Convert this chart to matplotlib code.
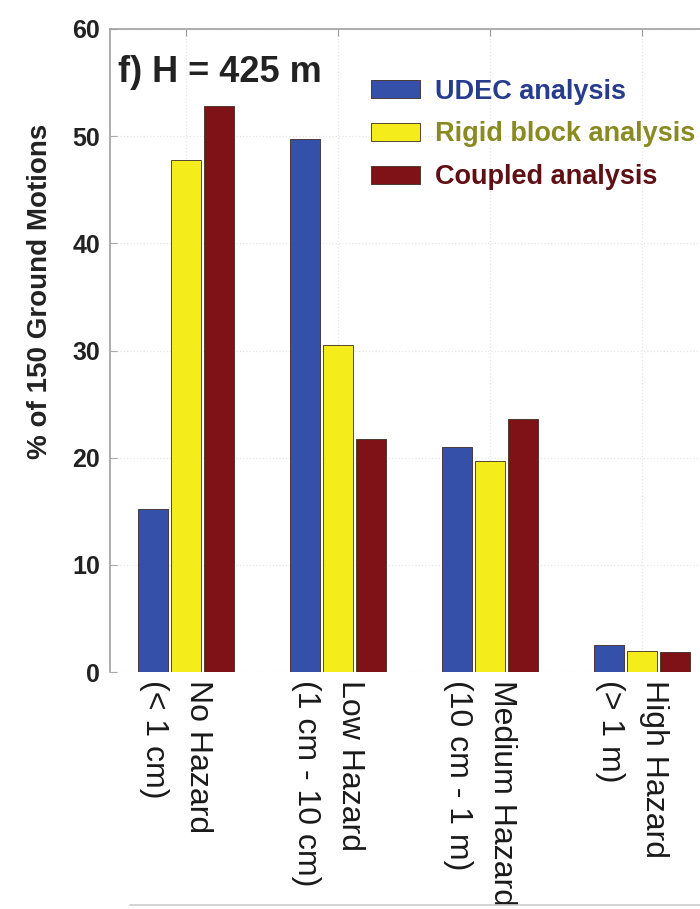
import matplotlib.pyplot as plt
import matplotlib.transforms as mtransforms
import numpy as np

plt.rcParams["font.family"] = ["Liberation Sans", "DejaVu Sans"]

categories = [
    "No Hazard\n(< 1 cm)",
    "Low Hazard\n(1 cm - 10 cm)",
    "Medium Hazard\n(10 cm - 1 m)",
    "High Hazard\n(> 1 m)",
]
udec = [15.2, 49.7, 21.0, 2.5]
rigid = [47.8, 30.5, 19.7, 2.0]
coupled = [52.8, 21.7, 23.6, 1.9]

series_names = ["UDEC analysis", "Rigid block analysis", "Coupled analysis"]
bar_colors = ["#3450a8", "#f5ec1c", "#7e1216"]
text_colors = ["#283c8e", "#8a8a22", "#5e1015"]

fig = plt.figure(figsize=(7.0, 9.09), dpi=100)
ax = fig.add_axes([110 / 700, 237 / 909, 608 / 700, 643 / 909])

x = np.arange(1, len(categories) + 1)
width = 0.197
offsets = [-0.217, 0.0, 0.217]
for vals, off, col, name in zip([udec, rigid, coupled], offsets, bar_colors, series_names):
    ax.bar(x + off, vals, width, color=col, edgecolor="#3a2a20", linewidth=0.6,
           label=name, zorder=3)

ax.set_xlim(0.5, 4.5)
ax.set_ylim(0, 60)
ax.set_yticks(range(0, 61, 10))
ax.set_xticks(x)
ax.set_xticklabels([])
for lab in ax.get_yticklabels():
    lab.set_fontweight("bold")
    lab.set_fontsize(18)
    lab.set_color("#222222")

# category names hang below the axis, set slightly left of each tick
trans = mtransforms.blended_transform_factory(ax.transData, ax.transAxes) + \
    mtransforms.ScaledTranslation(-0.10, -0.08, fig.dpi_scale_trans)
for xi, name in zip(x, categories):
    ax.text(xi, 0, name, transform=trans, rotation=-90, fontsize=23, va="top",
            ha="center", multialignment="left", linespacing=1.58, color="#1a1a1a",
            clip_on=False)

ax.tick_params(axis="y", direction="in", length=5, color="#aaaaaa", pad=7)
ax.tick_params(axis="x", direction="in", length=5, color="#999999",
               bottom=False, top=True)

ax.grid(True, color="#e6e6e6", linestyle=":", linewidth=0.9, zorder=0)
for side in ["left", "top", "right"]:
    ax.spines[side].set_color("#a0a0a0")
    ax.spines[side].set_linewidth(1.2)
ax.spines["bottom"].set_visible(False)

ax.set_ylabel("% of 150 Ground Motions", fontsize=20, fontweight="bold", color="#222222")
ax.yaxis.set_label_coords(-0.094, 0.5925)

ax.text(0.013, 0.9176, "f) H = 425 m", transform=ax.transAxes, fontsize=26,
        fontweight="bold", va="baseline", ha="left", color="#222222")

leg = ax.legend(loc="upper left", bbox_to_anchor=(0.43, 0.923), frameon=False,
                prop={"weight": "bold", "size": 19.5}, handlelength=1.8,
                handleheight=0.65, handletextpad=0.55, labelspacing=0.62,
                borderpad=0, borderaxespad=0)
for txt, c in zip(leg.get_texts(), text_colors):
    txt.set_color(c)

# thin rule along the bottom edge
fig.add_artist(plt.Line2D([130 / 700, 1.0], [4 / 909, 4 / 909], color="#cccccc",
                          linewidth=1.2))

fig.savefig("out.png", dpi=100)
